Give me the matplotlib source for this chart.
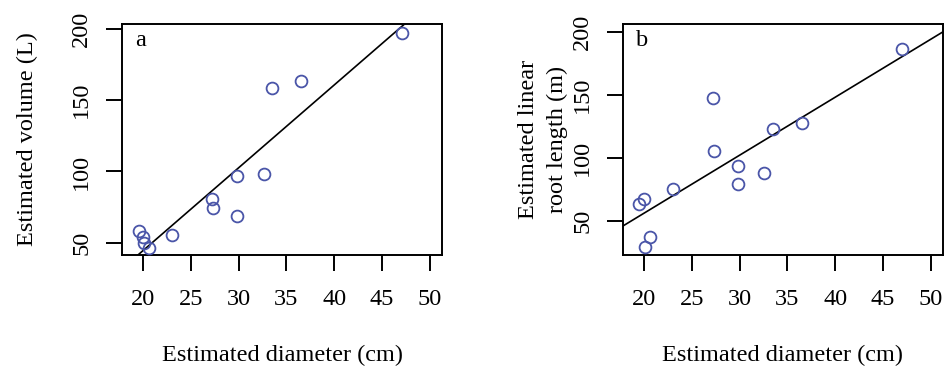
import matplotlib
matplotlib.use("Agg")
import matplotlib.pyplot as plt
import numpy as np

# panel a: estimated diameter (cm) vs estimated volume (L)
diam_a = [19.5, 20.0, 20.1, 20.6, 23.0, 27.2, 27.35, 29.85, 29.85, 32.6, 33.5, 36.5, 47.1]
vol_a = [58.2, 53.8, 49.6, 46.5, 55.2, 80.7, 74.6, 96.8, 69.0, 98.0, 158.8, 163.7, 197.2]
fit_a = (-71.3, 5.8)

# panel b: estimated diameter (cm) vs estimated linear root length (m)
diam_b = [19.45, 19.95, 20.05, 20.55, 22.95, 27.15, 27.35, 29.8, 29.85, 32.55, 33.5, 36.5, 47.05]
len_b = [63.8, 67.5, 29.6, 37.0, 75.2, 147.8, 105.6, 94.0, 79.4, 88.4, 123.1, 128.2, 186.5]
fit_b = (-35.6, 4.6)

xticks = [20, 25, 30, 35, 40, 45, 50]
yticks = [50, 100, 150, 200]

plt.rcParams['font.family'] = ['Liberation Serif', 'DejaVu Serif']
pt_col = '#4a55a8'
fs = 17.5

fig = plt.figure(figsize=(9.44, 3.68), dpi=100)
ax_a = fig.add_axes([122/944, 1-255/368, 320/944, 231/368])
ax_b = fig.add_axes([623/944, 1-255/368, 320/944, 231/368])

def panel(ax, x, y, fit, ylim, label, ylabel, ylpad):
    ax.plot(x, y, 'o', mfc='none', mec=pt_col, mew=1.3, ms=8.5, zorder=3)
    xl = np.array([17.0, 52.0])
    ax.plot(xl, fit[0] + fit[1]*xl, color='black', lw=1.2, zorder=2)
    ax.set_xlim(17.76, 51.3)
    ax.set_ylim(*ylim)
    ax.set_xticks(xticks)
    ax.set_yticks(yticks)
    for s in ax.spines.values():
        s.set_linewidth(1.4)
    ax.tick_params(direction='out', length=11.5, width=1.4, labelsize=fs)
    ax.tick_params(axis='x', pad=13)
    ax.tick_params(axis='y', pad=10)
    for t in ax.get_yticklabels():
        t.set_rotation(90)
        t.set_va('center')
    ax.set_xlabel('Estimated diameter (cm)', fontsize=fs, labelpad=25)
    ax.set_ylabel(ylabel, fontsize=fs, labelpad=ylpad, linespacing=1.5)
    ax.text(0.04, 0.975, label, transform=ax.transAxes, fontsize=fs, va='top', ha='left')

panel(ax_a, diam_a, vol_a, fit_a, (41.4, 203.5), 'a', 'Estimated volume (L)', 24)
panel(ax_b, diam_b, len_b, fit_b, (23.0, 206.6), 'b', 'Estimated linear\nroot length (m)', 3)

fig.savefig('out.png', dpi=100)
